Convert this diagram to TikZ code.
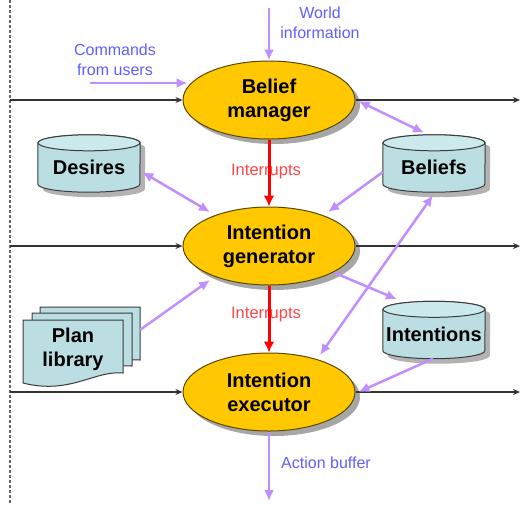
\documentclass[tikz,border=0pt]{standalone}
\usepackage{fontspec}
\setmainfont{Liberation Sans}
\usetikzlibrary{shapes.geometric,arrows.meta,shadows,backgrounds,calc}

\definecolor{goldfill}{RGB}{255,200,0}
\definecolor{goldline}{RGB}{90,72,0}
\definecolor{drumfill}{RGB}{186,222,226}
\definecolor{drumtop}{RGB}{204,234,237}
\definecolor{edgegray}{RGB}{60,60,60}
\definecolor{lilac}{RGB}{192,142,255}
\definecolor{labelblue}{RGB}{95,95,255}
\definecolor{intred}{RGB}{255,70,70}

\tikzset{
  stage/.style={ellipse, fill=goldfill, draw=goldline, line width=1pt,
    minimum width=172pt, minimum height=78pt, inner sep=0pt, align=center,
    font=\bfseries\fontsize{20}{24}\selectfont,
    drop shadow={shadow xshift=5pt, shadow yshift=-5pt, fill=black!35, opacity=1}},
  store/.style={rectangle, minimum width=102pt, minimum height=49pt, inner sep=0pt,
    align=center, font=\bfseries\fontsize{20}{24}\selectfont},
  storebody/.style={fill=drumfill, draw=edgegray, line width=1pt},
  lbl/.style={text=labelblue, align=center, font=\fontsize{16}{20}\selectfont},
  irq/.style={text=intred, font=\fontsize{16.5}{20}\selectfont},
  flow/.style={draw=lilac, line width=2.5pt, -{Latex[length=11pt,width=10pt]}},
  twoway/.style={draw=lilac, line width=2.5pt,
    {Latex[length=11pt,width=10pt]}-{Latex[length=11pt,width=10pt]}},
  interrupt/.style={draw=red, line width=3pt, -{Latex[length=11pt,width=11pt]}},
  tier/.style={draw=black!80, line width=1.1pt, -{Stealth[length=7pt,width=6pt]}},
}

% cylinder drawn round a store node: the node spans from the centre of the
% top ellipse down to the lowest point of the bottom rim
\newcommand\drum[1]{%
  \path[storebody, drop shadow={shadow xshift=5pt, shadow yshift=-5pt, fill=black!30, opacity=1}]
    (#1.north west) -- ([yshift=8pt]#1.south west)
    arc[start angle=180, end angle=360, x radius=51pt, y radius=8pt]
    -- (#1.north east)
    arc[start angle=0, end angle=180, x radius=51pt, y radius=8pt] -- cycle;
  \path[fill=drumtop, draw=edgegray, line width=1pt]
    (#1.north) ellipse[x radius=51pt, y radius=8pt];
}

% one sheet of the plan library stack, shifted from the front sheet
\newcommand\sheet[2]{%
  \path[storebody, shift={(#1,#2)}]
    (23,-320) -- (123,-320) -- (123,-373)
    .. controls (95,-370) and (70,-395) .. (23,-383) -- cycle;
}

\begin{document}
\begin{tikzpicture}[x=1pt,y=1pt]
  \useasboundingbox (0,0) rectangle (521,-504);

  % dotted boundary on the left
  \draw[draw=black!60, line width=1.5pt, dash pattern=on 3pt off 2pt] (10,0) -- (10,-504);

  % processing stages
  \node[stage] (bm)  at (269,-100) {Belief\\manager};
  \node[stage] (gen) at (269,-246) {Intention\\generator};
  \node[stage] (exe) at (269,-392) {Intention\\executor};

  % stores
  \node[store] (des) at (89,-167.5) {Desires};
  \node[store] (bel) at (434,-167.5) {Beliefs};
  \node[store] (int) at (434,-334) {Intentions};
  \node[store, minimum width=100pt, minimum height=58pt] (plan) at (73,-349) {Plan\\library};

  \begin{scope}[on background layer]
    \fill[white] (0,0) rectangle (521,-504);
    \drum{des}
    \drum{bel}
    \drum{int}
    \sheet{17}{13}
    \sheet{9}{7}
    \sheet{0}{0}
  \end{scope}

  % tier lines
  \coordinate (l1) at (10,-100);  \coordinate (r1) at (520,-100);
  \coordinate (l2) at (10,-246);  \coordinate (r2) at (520,-246);
  \coordinate (l3) at (10,-392);  \coordinate (r3) at (520,-392);
  \draw[tier] (l1) -- (bm.west);
  \draw[tier] (bm.east) -- (r1);
  \draw[tier] (l2) -- (gen.west);
  \draw[tier] (gen.east) -- (r2);
  \draw[tier] (l3) -- (exe.west);
  \draw[tier] (exe.east) -- (r3);

  % external labels
  \node[lbl] (wtxt) at (320,-23) {World\\information};
  \node[lbl] (ctxt) at (115,-60) {Commands\\from users};
  \node[irq] (irq1) at (266,-172) {Interrupts};
  \node[irq] (irq2) at (266,-315) {Interrupts};
  \node[lbl] (atxt) at (326,-463) {Action buffer};

  % inputs and outputs
  \coordinate (world) at (269,-8);
  \coordinate (cmd) at (90,-83);
  \coordinate (act) at (269,-501);
  \draw[flow] (world) -- (bm.north);
  \draw[flow] (cmd) -- ($(bm.west)+(5,17)$);
  \draw[flow] (exe.south) -- (act);

  % data flows between stages and stores
  \draw[twoway] ($(bm.east)+(3,-1)$) -- ($(bel.north)+(-10,10)$);
  \draw[twoway] ($(des.east)+(2,-4.5)$) -- ($(gen)+(-59,34)$);
  \draw[flow] ($(bel.west)+(0,-4.5)$) -- ($(gen)+(59,34)$);
  \draw[twoway] ($(exe)+(51,37)$) -- ($(bel.south)+(-1,-3)$);
  \draw[flow] ($(gen)+(66,-27)$) -- ($(int.north)+(-37,10)$);
  \draw[flow] ($(int.south)+(-1,0)$) -- ($(exe.east)+(3,0)$);
  \draw[flow] ($(plan.north east)+(17,-10)$) -- ($(gen)+(-59,-34)$);

  % interrupts
  \draw[interrupt] (bm.south) -- (gen.north);
  \draw[interrupt] (gen.south) -- (exe.north);
\end{tikzpicture}
\end{document}
